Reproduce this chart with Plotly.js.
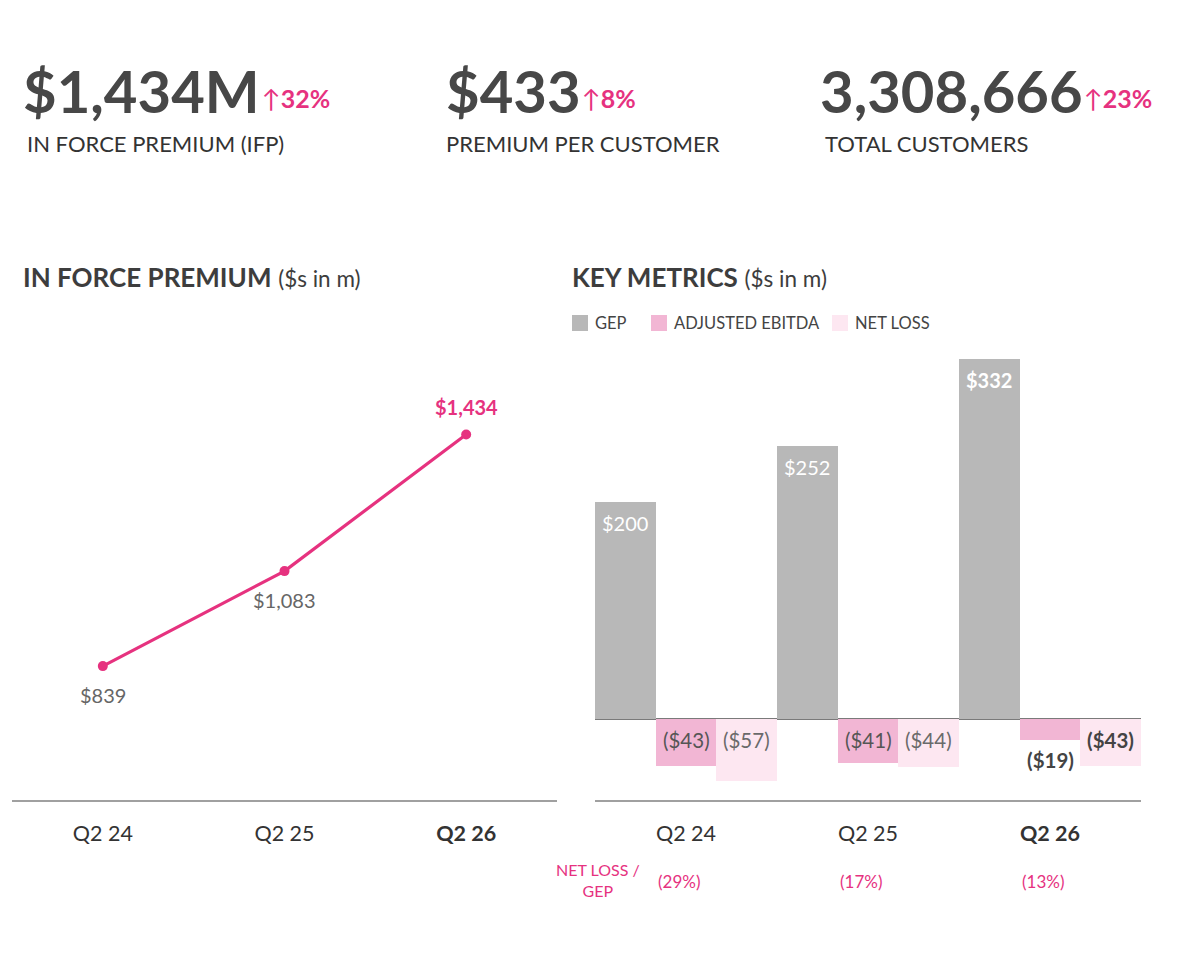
<!DOCTYPE html>
<html>
<head>
<meta charset="utf-8">
<script src="https://cdn.plot.ly/plotly-3.0.1.min.js"></script>
<style>
  html, body { margin: 0; padding: 0; background: #ffffff; }
  #chart { width: 1200px; height: 958px; }
</style>
</head>
<body>
<div id="chart"></div>
<script>
// Quarterly figures ($ in millions unless noted)
const quarters = ['Q2 24', 'Q2 25', 'Q2 26'];
const inForcePremium = [839, 1083, 1434];
const gep = [200, 252, 332];
const adjustedEbitda = [-43, -41, -19];
const netLoss = [-57, -44, -43];
const netLossPctOfGep = [29, 17, 13];

// Headline KPIs
const kpiValues = ['$1,434M', '$433', '3,308,666'];
const kpiGrowth = ['32%', '8%', '23%'];
const kpiLabels = ['IN FORCE PREMIUM (IFP)', 'PREMIUM PER CUSTOMER', 'TOTAL CUSTOMERS'];

const W = 1200, H = 958;
const px = x => x / W;
const py = y => 1 - y / H;

const PINK = '#e6327f';
const DARK = '#474747';
const FONT = 'Lato, "Open Sans", sans-serif';

const money = v => '$' + Math.abs(v).toLocaleString('en-US');
const moneyNeg = v => '(' + money(v) + ')';
const lastIdx = quarters.length - 1;
const bold = (s, i) => (i === lastIdx ? '<b>' + s + '</b>' : s);

// ---- traces ----
const traces = [];

traces.push({
  type: 'scatter',
  mode: 'lines+markers',
  x: quarters,
  y: inForcePremium,
  xaxis: 'x', yaxis: 'y',
  line: { color: PINK, width: 3.2 },
  marker: { color: PINK, size: 10 },
  showlegend: false,
  hoverinfo: 'skip'
});

const barSeries = [
  { name: 'GEP', values: gep, color: '#b8b8b8' },
  { name: 'ADJUSTED EBITDA', values: adjustedEbitda, color: '#f2b6d4' },
  { name: 'NET LOSS', values: netLoss, color: '#fde7f1' }
];

barSeries.forEach(s => {
  traces.push({
    type: 'bar',
    name: s.name,
    x: quarters,
    y: s.values,
    xaxis: 'x2', yaxis: 'y2',
    marker: { color: s.color, line: { width: 0 } },
    showlegend: false,
    hoverinfo: 'skip'
  });
});

// ---- annotations & shapes ----
const ann = [];
const shapes = [];

// KPI header
const kpiX = [21, 444, 818];
const growthX = [260, 580, 1082];
const labelX = [25, 444, 823];
kpiValues.forEach((v, i) => {
  ann.push({ xref: 'paper', yref: 'paper', x: px(kpiX[i]), y: py(90), xanchor: 'left', yanchor: 'middle',
    text: '<b>' + v + '</b>', showarrow: false, font: { family: FONT, size: 58, color: DARK } });
  ann.push({ xref: 'paper', yref: 'paper', x: px(growthX[i]), y: py(98), xanchor: 'left', yanchor: 'middle',
    text: '\u2191<b>' + kpiGrowth[i] + '</b>', showarrow: false, font: { family: FONT, size: 25, color: PINK } });
  ann.push({ xref: 'paper', yref: 'paper', x: px(labelX[i]), y: py(143), xanchor: 'left', yanchor: 'middle',
    text: kpiLabels[i], showarrow: false, font: { family: FONT, size: 22, color: '#333333' } });
});

// Section titles
const sectionTitles = [
  { x: 21, text: '<b>IN FORCE PREMIUM</b> <span style="font-size:22.5px">($s in m)</span>' },
  { x: 570, text: '<b>KEY METRICS</b> <span style="font-size:22.5px">($s in m)</span>' }
];
sectionTitles.forEach(t => {
  ann.push({ xref: 'paper', yref: 'paper', x: px(t.x), y: py(277), xanchor: 'left', yanchor: 'middle', showarrow: false,
    text: t.text, font: { family: FONT, size: 26, color: '#3d3d3d' } });
});

// Legend for the bar panel
const legendX = [572, 651, 832];
barSeries.forEach((s, k) => {
  shapes.push({ type: 'rect', xref: 'paper', yref: 'paper',
    x0: px(legendX[k]), x1: px(legendX[k] + 16), y0: py(331), y1: py(315),
    fillcolor: s.color, line: { width: 0 } });
  ann.push({ xref: 'paper', yref: 'paper', x: px(legendX[k] + 21), y: py(323), xanchor: 'left', yanchor: 'middle',
    showarrow: false, text: s.name, font: { family: FONT, size: 16.5, color: '#444444' } });
});

// Line point labels
inForcePremium.forEach((v, i) => {
  const isLast = i === lastIdx;
  ann.push({ xref: 'x', yref: 'y', x: i, y: v, showarrow: false,
    yanchor: 'middle', yshift: isLast ? 27 : -29,
    text: bold(money(v), i),
    font: { family: FONT, size: 20, color: isLast ? PINK : '#666666' } });
});

// Bar value labels
const barOffsets = [-1 / 3, 0, 1 / 3];
gep.forEach((v, i) => {
  ann.push({ xref: 'x2', yref: 'y2', x: i + barOffsets[0], y: v, showarrow: false,
    yanchor: 'top', yshift: -7, text: bold(money(v), i),
    font: { family: FONT, size: 20, color: '#ffffff' } });
});
const negColors = ['#555555', '#6a6a6a'];
[adjustedEbitda, netLoss].forEach((series, k) => {
  series.forEach((v, i) => {
    const shortBar = Math.abs(v) < 30;
    ann.push({ xref: 'x2', yref: 'y2', x: i + barOffsets[k + 1], y: shortBar ? v : 0, showarrow: false,
      yanchor: 'top', yshift: shortBar ? -6 : -7, text: bold(moneyNeg(v), i),
      font: { family: FONT, size: 20.5, color: i === lastIdx ? '#444444' : negColors[k] } });
  });
});

// Net loss as share of GEP
ann.push({ xref: 'paper', yref: 'paper', x: px(598), y: py(880), xanchor: 'center', yanchor: 'middle', showarrow: false,
  text: 'NET LOSS /<br>GEP', align: 'center',
  font: { family: FONT, size: 16, color: PINK } });
netLossPctOfGep.forEach((p, i) => {
  ann.push({ xref: 'x2', yref: 'paper', x: i, y: py(881), xshift: -7, yanchor: 'middle', showarrow: false,
    text: '(' + p + '%)', font: { family: FONT, size: 17, color: PINK } });
});

// ---- layout ----
const plotTop = 350, plotBottom = 800;
const tickText = quarters.map((q, i) => bold(q, i));

const xCommon = {
  type: 'category',
  range: [-0.5, 2.5],
  showgrid: false, zeroline: false,
  showline: true, linecolor: '#a0a0a0', linewidth: 2,
  ticks: '', tickmode: 'array', tickvals: quarters, ticktext: tickText,
  tickfont: { family: FONT, size: 21.5, color: '#333333' },
  ticklabelstandoff: 13,
  fixedrange: true
};

const layout = {
  width: W, height: H,
  margin: { l: 0, r: 0, t: 0, b: 0 },
  paper_bgcolor: '#ffffff', plot_bgcolor: '#ffffff',
  font: { family: FONT, color: DARK },
  showlegend: false,
  barmode: 'group', bargap: 0, bargroupgap: 0,
  xaxis: Object.assign({}, xCommon, { domain: [px(12), px(557)], anchor: 'y' }),
  yaxis: { domain: [py(plotBottom), py(plotTop)], range: [495, 1651], visible: false, fixedrange: true },
  xaxis2: Object.assign({}, xCommon, { domain: [px(595), px(1141)], anchor: 'y2' }),
  yaxis2: {
    domain: [py(plotBottom), py(plotTop)], range: [-74.8, 340.7], anchor: 'x2',
    showgrid: false, showline: false, showticklabels: false, ticks: '',
    zeroline: true, zerolinecolor: '#7a7a7a', zerolinewidth: 2, fixedrange: true
  },
  shapes: shapes,
  annotations: ann
};

Plotly.newPlot('chart', traces, layout, { displayModeBar: false, staticPlot: true });
</script>
</body>
</html>
